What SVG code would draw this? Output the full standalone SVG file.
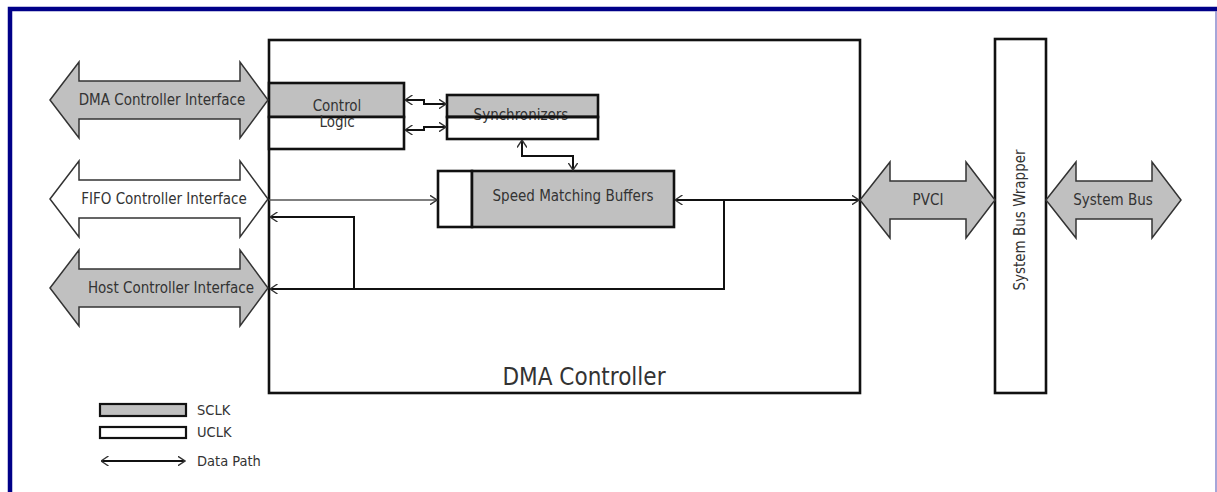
<svg xmlns="http://www.w3.org/2000/svg" width="1217" height="492" viewBox="0 0 1217 492">
<style>
text{font-family:"DejaVu Sans Condensed","DejaVu Sans",sans-serif;font-size:15px;fill:#333;text-anchor:middle}
.box{stroke:#111;stroke-width:2.6;}
.g{fill:#c0c0c0}
.w{fill:#fff}
.iface{stroke:#333;stroke-width:1.5;stroke-linejoin:miter}
.con{fill:none;stroke:#111;stroke-width:2}
.lg{text-anchor:start;font-size:14.5px}
</style>
<defs>
<marker id="ah" viewBox="0 0 8 10" refX="7.5" refY="5" markerWidth="8" markerHeight="10" markerUnits="userSpaceOnUse" orient="auto-start-reverse">
<path d="M0,0 L7.5,5 L0,10" fill="none" stroke="#333" stroke-width="1.4"/>
</marker>
</defs>
<rect width="1217" height="492" fill="#fff"/>
<g id="frame">
<path d="M10,492 V9 H1217" fill="none" stroke="#000088" stroke-width="4.5"/>
<line x1="1216" y1="11" x2="1216" y2="492" stroke="#8888cc" stroke-width="1.5"/>
</g>
<g id="dma-controller">
<rect x="269" y="40" width="591" height="353" class="box w"/>
<text x="584" y="385" style="font-size:24px">DMA Controller</text>
</g>
<g id="control-logic">
<rect x="269" y="83" width="135" height="34" class="box g"/>
<rect x="269" y="117" width="135" height="32" class="box w"/>
<text x="337" y="111">Control</text>
<text x="337" y="127">Logic</text>
</g>
<g id="synchronizers">
<rect x="447" y="95" width="151" height="22" class="box g"/>
<rect x="447" y="117" width="151" height="22" class="box w"/>
<text x="521" y="120">Synchronizers</text>
<line x1="447" y1="117" x2="598" y2="117" stroke="#111" stroke-width="2.6"/>
</g>
<g id="speed-matching-buffers">
<rect x="438" y="171" width="34" height="56" class="box w"/>
<rect x="472" y="171" width="202" height="56" class="box g"/>
<text x="573" y="201">Speed Matching Buffers</text>
</g>
<g id="system-bus-wrapper">
<rect x="995" y="39" width="51" height="354" class="box w"/>
<text transform="translate(1025,220) rotate(-90)" x="0" y="0">System Bus Wrapper</text>
</g>
<g id="dma-controller-interface">
<polygon class="iface g" points="50,100 79,62 79,81 240,81 240,62 268,100 240,138 240,119 79,119 79,138"/>
<text x="162" y="105">DMA Controller Interface</text>
</g>
<g id="fifo-controller-interface">
<polygon class="iface w" points="50,199 79,161 79,180 240,180 240,161 268,199 240,237 240,218 79,218 79,237"/>
<text x="164" y="204">FIFO Controller Interface</text>
</g>
<g id="host-controller-interface">
<polygon class="iface g" points="50,288 79,250 79,269 240,269 240,250 268,288 240,326 240,307 79,307 79,326"/>
<text x="171" y="293">Host Controller Interface</text>
</g>
<g id="pvci">
<polygon class="iface g" points="860,200 890,162 890,181 966,181 966,162 995,200 966,238 966,219 890,219 890,238"/>
<text x="928" y="205">PVCI</text>
</g>
<g id="system-bus">
<polygon class="iface g" points="1046,200 1076,162 1076,181 1152,181 1152,162 1181,200 1152,238 1152,219 1076,219 1076,238"/>
<text x="1113" y="205">System Bus</text>
</g>
<g id="connectors">
<path class="con" d="M405,100 H424 V104 H446" marker-start="url(#ah)" marker-end="url(#ah)"/>
<path class="con" d="M405,130 H424 V127 H446" marker-start="url(#ah)" marker-end="url(#ah)"/>
<path class="con" d="M522,140 V156 H573 V170" marker-start="url(#ah)" marker-end="url(#ah)"/>
<path d="M269,200 H437" fill="none" stroke="#555" stroke-width="1.3" marker-end="url(#ah)"/>
<path class="con" d="M675,200 H859" marker-start="url(#ah)" marker-end="url(#ah)"/>
<path class="con" d="M724,200 V289 H270" marker-end="url(#ah)"/>
<path class="con" d="M354,289 V217 H270" marker-end="url(#ah)"/>
</g>
<g id="legend">
<rect x="100" y="404" width="86" height="12" class="box g" style="stroke-width:2.2"/>
<rect x="100" y="427" width="86" height="11" class="box w" style="stroke-width:2.2"/>
<path class="con" d="M101,461 H185" marker-start="url(#ah)" marker-end="url(#ah)"/>
<text x="197" y="415" class="lg">SCLK</text>
<text x="197" y="437" class="lg">UCLK</text>
<text x="197" y="466" class="lg">Data Path</text>
</g>
</svg>
